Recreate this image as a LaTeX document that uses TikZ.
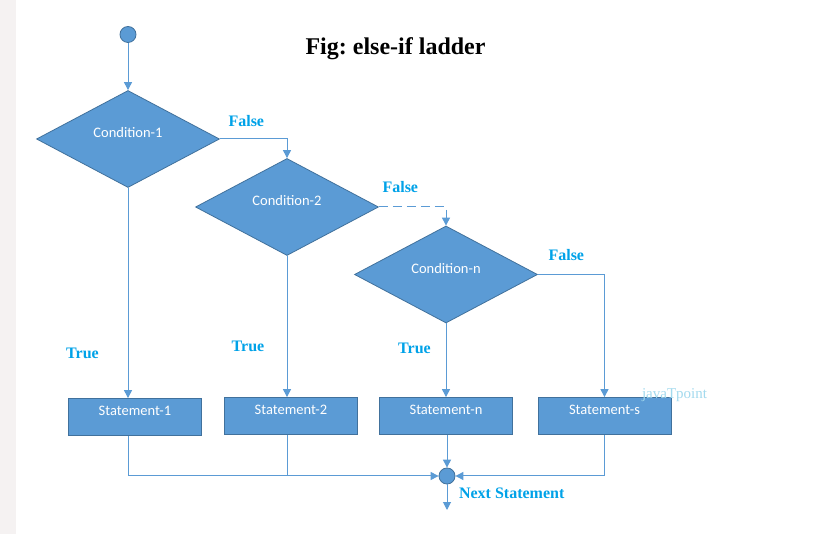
\documentclass[tikz,border=0pt]{standalone}
\usepackage{xcolor}
\usepackage{fontspec}
\setmainfont{Liberation Serif}
\newfontfamily\calibri{Carlito}
\usepackage{tikz}
\usetikzlibrary{shapes.geometric,arrows.meta}
\definecolor{boxblue}{HTML}{5B9BD5}
\definecolor{edgeblue}{HTML}{41719C}
\definecolor{labelblue}{HTML}{00A2E8}
\definecolor{markblue}{HTML}{A3DAEE}
\definecolor{sidegray}{HTML}{F5F2F2}
\frenchspacing

\begin{document}
\begin{tikzpicture}[x=1pt, y=-1pt,
		flow/.style={draw=boxblue, line width=1pt, -{Triangle[width=8pt,length=8pt]}},
		wire/.style={draw=boxblue, line width=1pt},
		cond/.style={diamond, fill=boxblue, draw=edgeblue, line width=0.8pt, minimum width=183pt, minimum height=97pt, inner sep=0pt, text=white, font=\calibri\fontsize{14.5}{17}\selectfont, text height=10pt, text depth=12pt},
		stmt/.style={rectangle, fill=boxblue, draw=edgeblue, line width=0.8pt, minimum width=133pt, minimum height=37pt, inner sep=0pt, text=white, font=\calibri\fontsize{14.5}{17}\selectfont, text height=10pt, text depth=12pt},
		dot/.style={circle, fill=boxblue, draw=edgeblue, line width=0.8pt, minimum size=16pt, inner sep=0pt},
		lbl/.style={anchor=base, text=labelblue, font=\bfseries\fontsize{16}{19}\selectfont}]
				\fill[white] (0,0) rectangle (825,534);
				\fill[sidegray] (0,0) rectangle (16,534);
				\node[anchor=base, font=\bfseries\fontsize{24}{28}\selectfont] (title) at (395.5,55) {Fig: else-if ladder};
				\node[dot] (start) at (128,34.5) {};
				\node[cond] (d1) at (128,139) {Condition-1};
				\node[cond] (d2) at (287,207) {Condition-2};
				\node[cond] (dn) at (446,274.5) {Condition-n};
				\node[stmt] (s1) at (135,417) {Statement-1};
				\node[stmt] (s2) at (291,416) {Statement-2};
				\node[stmt] (sn) at (446,416) {Statement-n};
				\node[stmt] (ss) at (604.5,416) {Statement-s};
				\node[dot] (join) at (447,476) {};
				\coordinate (exit) at (447,510);
				\draw[flow] (start) -- (d1);
				\draw[flow] (d1.east) -| (d2.north);
				\draw[flow, dash pattern=on 9pt off 5pt] (d2.east) -| (dn.north);
				\draw[flow] (dn.east) -| (ss.north);
				\draw[flow] (d1.south) -- (d1.south |- s1.north);
				\draw[flow] (d2.south) -- (d2.south |- s2.north);
				\draw[flow] (dn.south) -- (dn.south |- sn.north);
				\draw[flow] (d1.south |- s1.south) |- (join.west);
				\draw[wire] (d2.south |- s2.south) -- (d2.south |- join);
				\draw[flow] (join.north |- sn.south) -- (join.north);
				\draw[flow] (ss.south) |- (join.east);
				\draw[flow] (join.south) -- (exit);
				\node[lbl] (f1) at (246.3,127) {False};
				\node[lbl] (f2) at (400.3,192.7) {False};
				\node[lbl] (f3) at (566.3,260.7) {False};
				\node[lbl] (t1) at (82.5,358.3) {True};
				\node[lbl] (t2) at (248,352) {True};
				\node[lbl] (tn) at (414.5,353.5) {True};
				\node[lbl] (next) at (511.7,499) {Next Statement};
				\node[anchor=base, text=markblue, font=\fontsize{15}{18}\selectfont] (mark) at (674.5,398.3) {javaTpoint};
			\end{tikzpicture}
\end{document}
